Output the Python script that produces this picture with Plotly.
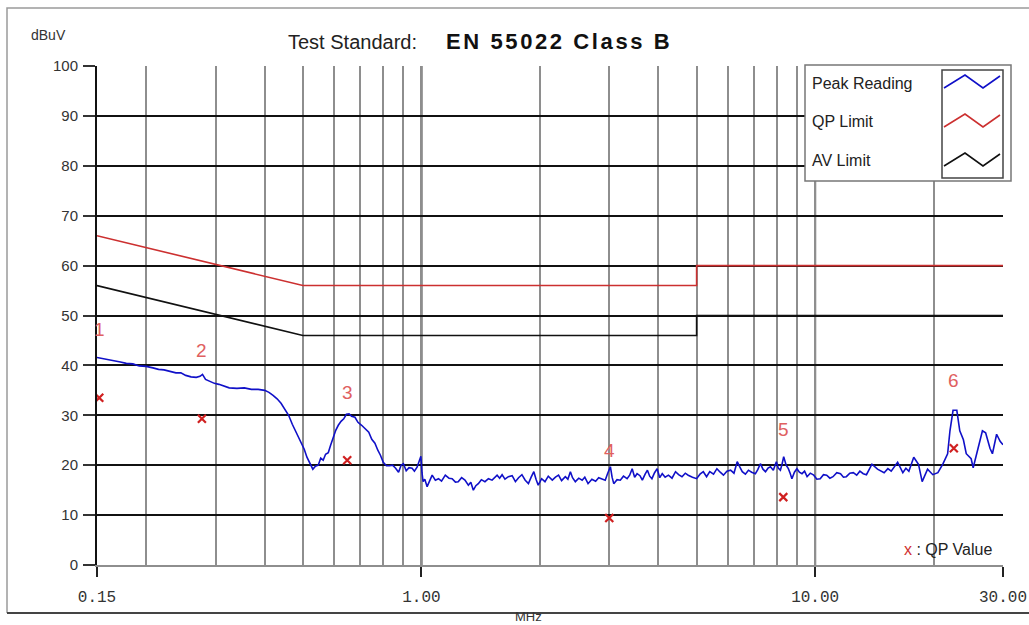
import math
import plotly.graph_objects as go

# ---------------- data ----------------
peak_freq_mhz = [
    0.150, 0.155, 0.160, 0.166, 0.172, 0.178, 0.185, 0.192, 0.200, 0.208,
    0.215, 0.222, 0.230, 0.238, 0.245, 0.252, 0.260, 0.268, 0.274, 0.278,
    0.283, 0.290, 0.298, 0.306, 0.315, 0.325, 0.340, 0.355, 0.370, 0.385,
    0.400, 0.410, 0.420, 0.430, 0.440, 0.450, 0.460, 0.470, 0.478, 0.488,
    0.496, 0.504, 0.512, 0.520, 0.530, 0.538, 0.547, 0.555, 0.563, 0.571,
    0.580, 0.588, 0.597, 0.606, 0.615, 0.625, 0.635, 0.645, 0.655, 0.665,
    0.678, 0.690, 0.705, 0.720, 0.735, 0.748, 0.762, 0.775, 0.787, 0.800,
    0.815, 0.830, 0.845, 0.860, 0.875, 0.888, 0.900, 0.915, 0.930, 0.947,
    0.960, 0.975, 0.990, 0.997, 1.003,
    1.010, 1.020, 1.034, 1.050, 1.065, 1.085, 1.105, 1.125, 1.150, 1.175,
    1.197, 1.220, 1.240, 1.265, 1.290, 1.316, 1.335, 1.355, 1.375, 1.395,
    1.420, 1.450, 1.480, 1.512, 1.535, 1.557, 1.580, 1.603, 1.630, 1.663,
    1.700, 1.733, 1.765, 1.800, 1.835, 1.870, 1.900, 1.930, 1.955, 1.980,
    2.020, 2.060, 2.100, 2.150, 2.190, 2.230, 2.270, 2.320, 2.355, 2.390,
    2.420, 2.460, 2.510, 2.560, 2.600, 2.650, 2.710, 2.770, 2.820, 2.880,
    2.930, 2.970, 3.020, 3.050, 3.080, 3.140, 3.200, 3.260, 3.330, 3.380,
    3.430, 3.480, 3.530, 3.590, 3.640, 3.700, 3.750, 3.800, 3.850, 3.910,
    3.970, 4.030, 4.090, 4.160, 4.240, 4.330, 4.420, 4.500, 4.590, 4.680,
    4.760, 4.880, 5.000, 5.100, 5.200, 5.300, 5.400, 5.520, 5.630, 5.740,
    5.850, 5.970, 6.100, 6.220, 6.340, 6.440, 6.530, 6.650, 6.770, 6.900,
    7.050, 7.150, 7.260, 7.370, 7.480, 7.590, 7.700, 7.830, 7.970, 8.060,
    8.160, 8.240, 8.320, 8.440, 8.550, 8.640, 8.730, 8.860, 8.990, 9.120,
    9.260, 9.400, 9.540, 9.720, 9.920, 10.10, 10.30, 10.50, 10.70, 10.90,
    11.10, 11.35, 11.60, 11.80, 12.00, 12.25, 12.50, 12.75, 12.99, 13.25,
    13.50, 13.94, 14.40, 14.97, 15.30, 15.60, 16.20, 16.70, 17.00, 17.30,
    17.80, 18.30, 18.70, 19.30, 19.90, 20.50, 21.10, 21.70, 22.00, 22.40,
    22.90, 23.30, 23.80, 24.20, 24.90, 25.20, 25.70, 26.10, 26.60, 27.10,
    27.80, 28.20, 28.90, 29.50, 30.00,
]
peak_level_dbuv = [
    41.6, 41.4, 41.1, 41.0, 40.7, 40.4, 40.3, 39.9, 39.8, 39.5,
    39.2, 39.1, 38.8, 38.5, 38.5, 38.0, 37.7, 37.6, 37.8, 38.2,
    37.2, 36.8, 36.4, 36.2, 35.8, 35.5, 35.4, 35.5, 35.2, 35.2,
    35.0, 34.6, 34.0, 33.3, 32.4, 31.2, 30.0, 28.2, 27.0, 25.6,
    24.2, 23.2, 21.6, 20.4, 19.2, 19.8, 20.0, 21.4, 21.0, 22.2,
    22.5, 24.0, 25.6, 27.0, 28.0, 28.8, 29.3, 30.2, 30.3, 29.8,
    29.6, 28.6, 28.0, 27.2, 26.6, 25.2, 24.4, 23.0, 22.0, 20.6,
    19.9, 19.9, 20.0, 19.4, 18.6, 20.0, 20.3, 18.9, 19.5, 19.4,
    18.8, 19.6, 21.0, 21.8, 18.6,
    16.7, 17.2, 15.7, 16.9, 18.0, 17.0, 17.3, 16.8, 18.0, 17.4,
    17.3, 16.6, 16.7, 17.5, 17.0, 16.0, 16.6, 15.0, 15.9, 16.3,
    17.1, 16.7, 17.3, 17.0, 17.6, 18.0, 17.4, 18.1, 17.2, 17.7,
    17.9, 16.7, 17.5, 18.1, 17.0, 16.3, 17.6, 18.7, 17.2, 16.0,
    17.3, 16.7, 17.8, 17.0, 17.6, 18.0, 16.9, 17.7, 17.2, 18.7,
    17.5, 16.7, 17.4, 17.0, 17.6, 16.3, 17.2, 16.8, 17.5, 17.3,
    17.0, 18.3, 19.7, 17.6, 16.3, 17.1, 17.0, 17.8, 17.3, 18.0,
    19.3, 17.6, 18.3, 17.9, 17.0, 18.2, 19.0, 17.8, 17.3, 18.5,
    19.3, 17.5, 18.3, 17.6, 18.0, 17.4, 18.7, 18.1, 17.7, 18.4,
    18.0, 17.6, 17.3, 18.2, 18.7, 17.7, 18.7, 18.2, 19.3, 18.6,
    18.0, 18.8, 19.0, 18.4, 20.7, 19.6, 18.7, 18.2, 19.0, 18.6,
    18.3, 19.1, 20.3, 19.2, 18.7, 19.4, 19.7, 19.0, 20.7, 19.4,
    19.0, 20.2, 21.7, 20.0, 19.3, 18.4, 17.3, 18.6, 19.3, 18.6,
    18.3, 18.8, 17.7, 18.4, 18.0, 17.2, 17.3, 18.1, 18.0, 17.4,
    17.7, 18.5, 18.3, 17.6, 17.7, 18.4, 18.5, 18.0, 18.8, 18.3,
    18.1, 20.2, 19.2, 18.5, 19.3, 18.8, 20.6, 18.5, 19.4, 18.8,
    21.6, 20.2, 16.7, 19.2, 18.1, 18.5, 20.2, 22.3, 26.9, 31.0,
    31.0, 26.9, 25.1, 22.3, 21.3, 19.5, 22.3, 24.8, 26.9, 26.5,
    23.4, 22.3, 26.2, 24.8, 24.1,
]

qp_limit_freq_mhz = [0.15, 0.5, 5.0, 5.0, 30.0]
qp_limit_dbuv = [66, 56, 56, 60, 60]
av_limit_freq_mhz = [0.15, 0.5, 5.0, 5.0, 30.0]
av_limit_dbuv = [56, 46, 46, 50, 50]

qp_freq_mhz = [0.152, 0.277, 0.648, 3.0, 8.3, 22.5]
qp_value_dbuv = [33.5, 29.3, 21.0, 9.4, 13.6, 23.4]
qp_labels = ["1", "2", "3", "4", "5", "6"]

x_tick_vals = [0.15, 1, 10, 30]
x_tick_text = ["0.15", "1.00", "10.00", "30.00"]
x_minor_vals = [0.2, 0.3, 0.4, 0.5, 0.6, 0.7, 0.8, 0.9,
                2, 3, 4, 5, 6, 7, 8, 9, 20]
x_major_grid = [1, 10]
y_tick_vals = [0, 10, 20, 30, 40, 50, 60, 70, 80, 90, 100]

# ---------------- layout geometry (pixels) ----------------
W, H = 1029, 625
L, R, T, B = 97, 26, 66, 60
PW, PH = W - L - R, H - T - B


def px(x):
    return (x - L) / PW


def py(y):
    return (T + PH - y) / PH


fig = go.Figure()

fig.add_trace(go.Scatter(x=qp_limit_freq_mhz, y=qp_limit_dbuv, mode="lines",
                         line=dict(color="#cc3030", width=1.6), name="QP Limit",
                         hoverinfo="skip"))
fig.add_trace(go.Scatter(x=av_limit_freq_mhz, y=av_limit_dbuv, mode="lines",
                         line=dict(color="#111111", width=1.6), name="AV Limit",
                         hoverinfo="skip"))
fig.add_trace(go.Scatter(x=peak_freq_mhz, y=peak_level_dbuv, mode="lines",
                         line=dict(color="#1010c8", width=1.6), name="Peak Reading"))
fig.add_trace(go.Scatter(x=qp_freq_mhz, y=qp_value_dbuv, mode="markers",
                         marker=dict(symbol="x-thin", size=8,
                                     line=dict(color="#d02020", width=2.2),
                                     color="#d02020"),
                         name="QP Value"))

annotations = []
for f, v, lab in zip(qp_freq_mhz, qp_value_dbuv, qp_labels):
    annotations.append(dict(x=math.log10(f), y=v, xref="x", yref="y", text=lab,
                            showarrow=False, yshift=68,
                            font=dict(family="Liberation Sans", size=19, color="#e06060")))

# title
annotations.append(dict(x=px(286), y=py(42), xref="paper", yref="paper",
                        xanchor="left", yanchor="middle", showarrow=False,
                        text="Test Standard:",
                        font=dict(family="Liberation Sans", size=20, color="#222")))
annotations.append(dict(x=px(444), y=py(42), xref="paper", yref="paper",
                        xanchor="left", yanchor="middle", showarrow=False,
                        text='<span style="letter-spacing:2.6px"><b>EN 55022 Class B</b></span>',
                        font=dict(family="Liberation Sans", size=22, color="#111")))
annotations.append(dict(x=px(29), y=py(35), xref="paper", yref="paper",
                        xanchor="left", yanchor="middle", showarrow=False,
                        text="dBuV",
                        font=dict(family="Liberation Sans", size=14, color="#333")))
annotations.append(dict(x=px(528), y=py(625.5), xref="paper", yref="paper",
                        xanchor="center", yanchor="bottom", showarrow=False,
                        text="MHz",
                        font=dict(family="Liberation Sans", size=13, color="#333")))
# QP value note
annotations.append(dict(x=px(994), y=py(549), xref="paper", yref="paper",
                        xanchor="right", yanchor="middle", showarrow=False,
                        text='<span style="color:#d03030">x</span> : QP Value',
                        font=dict(family="Liberation Sans", size=16, color="#222")))
# legend texts
for txt, yy in [("Peak Reading", 83), ("QP Limit", 121), ("AV Limit", 160)]:
    annotations.append(dict(x=px(810), y=py(yy), xref="paper", yref="paper",
                            xanchor="left", yanchor="middle", showarrow=False,
                            text=txt,
                            font=dict(family="Liberation Sans", size=16, color="#222")))

shapes = []
# major black verticals at 1 and 10 MHz
for g in x_major_grid:
    shapes.append(dict(type="line", xref="x", yref="paper", x0=g, x1=g, y0=0, y1=1,
                       line=dict(color="#111", width=2), layer="between"))
# outer frame
shapes.append(dict(type="path", xref="paper", yref="paper",
                   path=f"M {px(1040)},{py(8)} L {px(7)},{py(8)} L {px(7)},{py(613)}",
                   line=dict(color="#9a9a9a", width=1.5)))
shapes.append(dict(type="line", xref="paper", yref="paper",
                   x0=px(7), x1=px(1040), y0=py(613), y1=py(613),
                   line=dict(color="#444", width=2.2)))
# legend box
shapes.append(dict(type="rect", xref="paper", yref="paper",
                   x0=px(805), x1=px(1011), y0=py(181), y1=py(65),
                   fillcolor="white", line=dict(color="#777", width=1.5), layer="above"))
shapes.append(dict(type="rect", xref="paper", yref="paper",
                   x0=px(942), x1=px(1003), y0=py(178), y1=py(70),
                   fillcolor="white", line=dict(color="#444", width=1.5), layer="above"))


def zig(points):
    return "M " + " L ".join(f"{px(a)},{py(b)}" for a, b in points)


for color, base in [("#1010c8", 0), ("#cc3030", 39), ("#111111", 78)]:
    pts = [(944, 88 + base), (965, 75 + base), (983, 88 + base), (1000, 76 + base)]
    shapes.append(dict(type="path", xref="paper", yref="paper", path=zig(pts),
                       line=dict(color=color, width=1.6), layer="above"))

fig.update_layout(
    width=W, height=H,
    margin=dict(l=L, r=R, t=T, b=B, pad=0, autoexpand=False),
    paper_bgcolor="white", plot_bgcolor="white",
    showlegend=False,
    annotations=annotations,
    shapes=shapes,
)

fig.update_xaxes(
    type="log", range=[math.log10(0.15), math.log10(30)],
    automargin=False,
    tickmode="array", tickvals=x_tick_vals, ticktext=x_tick_text,
    ticks="outside", ticklen=10, tickwidth=2, tickcolor="#222",
    ticklabelstandoff=6,
    tickfont=dict(family="Liberation Mono", size=16, color="#333"),
    showgrid=True, gridcolor="#8e8e8e", gridwidth=1.5,
    minor=dict(tickmode="array", tickvals=x_minor_vals, showgrid=True,
               gridcolor="#8e8e8e", gridwidth=1.5, ticks=""),
    showline=True, linecolor="#8e8e8e", linewidth=1.5, mirror=False,
    zeroline=False,
)
fig.update_yaxes(
    range=[0, 100], tickmode="array", tickvals=y_tick_vals,
    automargin=False,
    ticks="outside", ticklen=12, tickwidth=2, tickcolor="#333",
    ticklabelstandoff=2,
    tickfont=dict(family="Liberation Sans", size=15, color="#333"),
    showgrid=True, gridcolor="#111", gridwidth=1.5,
    showline=True, linecolor="#111", linewidth=2, mirror=False,
    zeroline=False,
)

fig.write_html("out.html")
